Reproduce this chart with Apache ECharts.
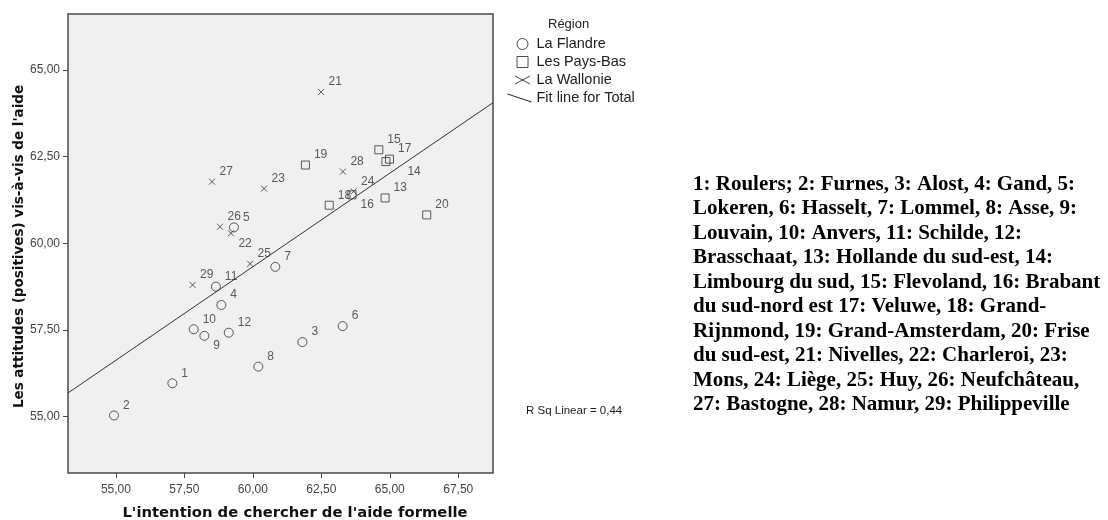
<!DOCTYPE html>
<html>
<head>
<meta charset="utf-8">
<script src="https://cdn.jsdelivr.net/npm/echarts@6/dist/echarts.min.js"></script>
<style>
  html, body { margin: 0; padding: 0; background: #ffffff; }
  #chart { width: 1108px; height: 520px; }
</style>
</head>
<body>
<div id="chart"></div>
<script>
// Axis ranges and tick positions
const xRange = [53.25, 68.77];
const yRange = [53.37, 66.62];
const xTicks = [55, 57.5, 60, 62.5, 65, 67.5];
const yTicks = [55, 57.5, 60, 62.5, 65];

// [intention, attitudes, region number]
const flandre = [
  [57.06, 55.96, 1], [54.93, 55.03, 2], [61.81, 57.15, 3], [58.85, 58.22, 4],
  [59.31, 60.46, 5], [63.28, 57.61, 6], [60.82, 59.32, 7], [60.20, 56.44, 8],
  [58.23, 57.33, 9], [57.84, 57.52, 10], [58.65, 58.75, 11], [59.12, 57.42, 12]
];
const paysBas = [
  [64.83, 61.31, 13], [64.86, 62.36, 14], [64.60, 62.70, 15], [63.62, 61.40, 16],
  [64.99, 62.43, 17], [62.79, 61.10, 18], [61.92, 62.26, 19], [66.35, 60.82, 20]
];
const wallonie = [
  [62.49, 64.37, 21], [59.20, 60.29, 22], [60.41, 61.58, 23], [63.68, 61.50, 24],
  [59.90, 59.41, 25], [58.80, 60.48, 26], [58.51, 61.78, 27], [63.29, 62.07, 28],
  [57.80, 58.80, 29]
];
// Linear fit over all regions, given at the plot's x extremes
const fitLine = [[53.25, 55.68], [68.77, 64.06]];
const rSquared = 0.44;

const seriesNames = ['La Flandre', 'Les Pays-Bas', 'La Wallonie', 'Fit line for Total'];
const legendTitle = 'Région';
const xName = "L'intention de chercher de l'aide formelle";
const yName = "Les attitudes (positives) vis-à-vis de l'aide";

const captionLines = [
  '1: Roulers; 2: Furnes, 3: Alost, 4: Gand, 5:',
  'Lokeren, 6: Hasselt, 7: Lommel, 8: Asse, 9:',
  'Louvain, 10: Anvers, 11: Schilde, 12:',
  'Brasschaat, 13: Hollande du sud-est, 14:',
  'Limbourg du sud, 15: Flevoland, 16: Brabant',
  'du sud-nord est 17: Veluwe, 18: Grand-',
  'Rijnmond, 19: Grand-Amsterdam, 20: Frise',
  'du sud-est, 21: Nivelles, 22: Charleroi, 23:',
  'Mons, 24: Liège, 25: Huy, 26: Neufchâteau,',
  '27: Bastogne, 28: Namur, 29: Philippeville'
];

// Label placement: numbers sit above-right of their marker unless listed here
const labelBelow = [9, 16, 22];
const labelFarBelow = [14];

const SANS = '"Liberation Sans", Arial, sans-serif';
const INK = '#333333';
const fmt = v => v.toFixed(2).replace('.', ',');

function pointLabel(id) {
  if (labelFarBelow.includes(id)) return { offset: [13, 10] };
  if (labelBelow.includes(id)) return { offset: [0, 10] };
  return {};
}
const toItems = arr => arr.map(d => ({ value: d, label: pointLabel(d[2]) }));

const baseLabel = {
  show: true,
  position: 'right',
  distance: 2,
  offset: [0, -10],
  formatter: p => String(p.value[2]),
  fontFamily: SANS,
  fontSize: 12,
  color: INK
};
const markerStyle = { color: 'none', borderColor: INK, borderWidth: 1 };
const legendStyle = { color: 'none', borderColor: '#222', borderWidth: 1 };

// Legend glyphs share a 26x11 box; the corner points keep every glyph unscaled
const BOX = 'M0,0L0,0M26,11L26,11';
const legendIcons = [
  'path://' + BOX + 'M22.5,5.5A5.5,5.5,0,1,1,11.5,5.5A5.5,5.5,0,1,1,22.5,5.5Z',
  'path://' + BOX + 'M11.5,0L22.5,0L22.5,11L11.5,11Z',
  'path://' + BOX + 'M9.5,1.5L24.5,9.5M9.5,9.5L24.5,1.5',
  'path://' + BOX + 'M2,1.5L26,9.5'
];

const chart = echarts.init(document.getElementById('chart'), null, { renderer: 'canvas' });

chart.setOption({
  animation: false,
  backgroundColor: '#ffffff',
  grid: {
    left: 68, top: 14, right: 615, bottom: 47,
    outerBoundsMode: 'none',
    containLabel: false,
    show: true,
    backgroundColor: '#f0f0f0',
    borderColor: '#4a4a4a',
    borderWidth: 1.5
  },
  xAxis: {
    type: 'value',
    min: xRange[0], max: xRange[1],
    name: xName,
    nameLocation: 'middle',
    nameGap: 33,
    nameTextStyle: { fontFamily: '"DejaVu Sans", sans-serif', fontWeight: 'bold', fontSize: 14.8, color: '#111', padding: [0, 0, 0, 29] },
    axisLine: { show: false },
    axisTick: { show: true, customValues: xTicks, length: 5, lineStyle: { color: '#4a4a4a', width: 1 } },
    axisLabel: { customValues: xTicks, formatter: fmt, margin: 11, fontFamily: SANS, fontSize: 12, color: '#444' },
    splitLine: { show: false }
  },
  yAxis: {
    type: 'value',
    min: yRange[0], max: yRange[1],
    name: yName,
    nameLocation: 'middle',
    nameGap: 42,
    nameRotate: 90,
    nameTextStyle: { fontFamily: '"DejaVu Sans", sans-serif', fontWeight: 'bold', fontSize: 13.5, color: '#111', padding: [0, 6, 0, 0] },
    axisLine: { show: false },
    axisTick: { show: true, customValues: yTicks, length: 5, lineStyle: { color: '#4a4a4a', width: 1 } },
    axisLabel: { customValues: yTicks, formatter: fmt, margin: 8, fontFamily: SANS, fontSize: 12, color: '#444' },
    splitLine: { show: false }
  },
  legend: {
    orient: 'vertical',
    left: 503,
    top: 36,
    padding: 0,
    itemWidth: 26,
    itemHeight: 11,
    itemGap: 2,
    selectedMode: false,
    textStyle: { fontFamily: SANS, fontSize: 14.5, color: '#222' },
    data: seriesNames.map((name, i) => ({ name, icon: legendIcons[i], itemStyle: legendStyle }))
  },
  graphic: [
    {
      type: 'text', left: 548, top: 18,
      style: { text: legendTitle, font: '13px ' + SANS, fill: '#222' }
    },
    {
      type: 'text', left: 526, top: 405,
      style: { text: 'R Sq Linear = ' + rSquared.toFixed(2).replace('.', ','), font: '11.5px ' + SANS, fill: '#222' }
    },
    {
      type: 'text', left: 693, top: 172,
      style: {
        text: captionLines.join('\n'),
        font: 'bold 21px "Liberation Serif", "Times New Roman", serif',
        lineHeight: 24.5,
        fill: '#000'
      }
    }
  ],
  series: [
    {
      name: seriesNames[0], type: 'scatter',
      symbol: 'circle', symbolSize: 9,
      itemStyle: markerStyle, label: baseLabel,
      data: toItems(flandre), z: 3
    },
    {
      name: seriesNames[1], type: 'scatter',
      symbol: 'rect', symbolSize: 8,
      itemStyle: markerStyle, label: baseLabel,
      data: toItems(paysBas), z: 3
    },
    {
      name: seriesNames[2], type: 'scatter',
      symbol: 'path://M0,0L10,10M0,10L10,0', symbolSize: 6,
      itemStyle: markerStyle, label: baseLabel,
      data: toItems(wallonie), z: 3
    },
    {
      name: seriesNames[3], type: 'line',
      data: fitLine,
      symbol: 'none',
      lineStyle: { color: INK, width: 1 },
      itemStyle: { color: INK },
      z: 2
    }
  ]
});
</script>
</body>
</html>
